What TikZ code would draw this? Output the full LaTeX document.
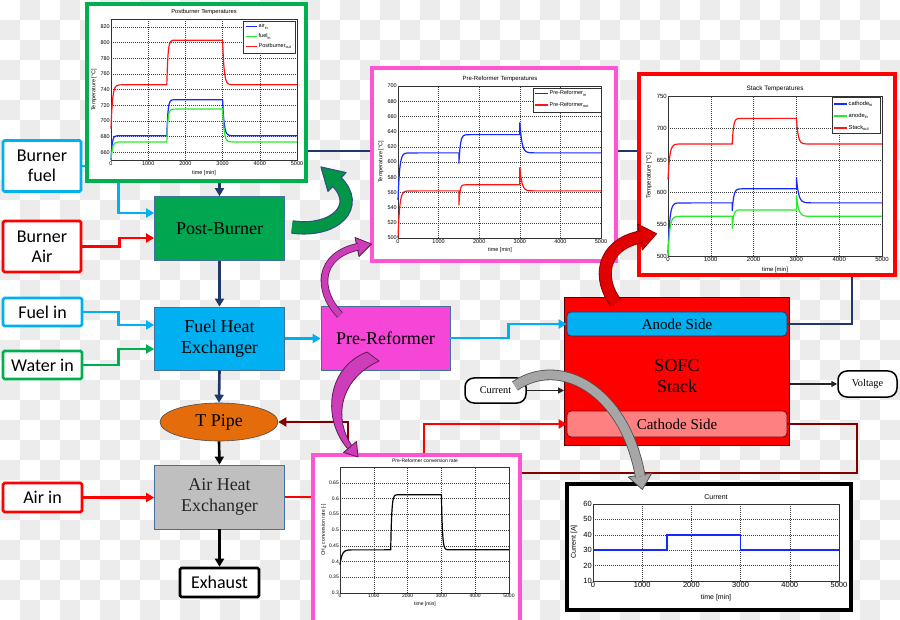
\documentclass[tikz,border=0pt]{standalone}
\usepackage{fontspec}
\setmainfont{Liberation Serif}
\setsansfont{Liberation Sans}
\newfontfamily\calib{Carlito}
\usetikzlibrary{arrows.meta,shapes.geometric,calc}
\definecolor{lblue}{RGB}{0,176,240}
\definecolor{navy}{RGB}{31,56,105}
\definecolor{pbgreen}{RGB}{0,166,80}
\definecolor{lgreen}{RGB}{0,176,80}
\definecolor{maroonc}{RGB}{128,0,0}
\definecolor{orng}{RGB}{228,108,10}
\definecolor{pinkf}{RGB}{245,70,215}
\definecolor{pinkfr}{RGB}{255,85,210}
\definecolor{bordb}{RGB}{65,113,156}
\definecolor{chk}{RGB}{236,236,236}
\definecolor{salm}{RGB}{255,128,128}
\definecolor{mblue}{RGB}{20,40,255}
\definecolor{mgreen}{RGB}{40,235,40}
\definecolor{mred}{RGB}{255,20,20}
\definecolor{magarr}{RGB}{205,60,185}
\definecolor{magbrd}{RGB}{90,30,80}
\definecolor{garr}{RGB}{0,150,70}
\definecolor{gbrd}{RGB}{50,80,130}
\definecolor{rarr}{RGB}{225,0,0}
\definecolor{rbrd}{RGB}{150,0,0}
\definecolor{grarr}{RGB}{166,166,166}
\definecolor{grbrd}{RGB}{80,80,80}
\tikzset{
 inbox/.style={draw, line width=2.6pt, fill=white, font=\calib\fontsize{18}{20}\selectfont, align=center, inner sep=0pt, rounded corners=1.5pt},
 mainbox/.style={draw=bordb, line width=0.8pt, font=\fontsize{18}{21}\selectfont, align=center, inner sep=0pt},
 pipe/.style={line width=2.6pt, -{Triangle[length=8pt,width=9pt]}},
 thinarr/.style={line width=1.4pt, -{Triangle[length=6pt,width=6pt]}},
 pill/.style={draw=black, line width=1.5pt, fill=white, rounded corners=9pt, font=\fontsize{10.3}{12}\selectfont, inner sep=0pt},
 gridl/.style={line width=0.4pt, black!75, dash pattern=on 0.8pt off 1.2pt},
 axl/.style={line width=0.5pt, black!80},
 tk/.style={font=\sffamily\fontsize{#1}{#1}\selectfont, inner sep=1pt},
 cr/.style={line width=1.2pt}
}
\begin{document}
\begin{tikzpicture}[x=1pt,y=-1pt]
\useasboundingbox (0,0) rectangle (900,620);
\fill[white] (0,0) rectangle (900,620);
\foreach \i in {0,...,44}{\foreach \j in {0,...,30}{\pgfmathtruncatemacro\m{mod(\i+\j,2)}\ifnum\m=1 \fill[chk] (\i*20,\j*20) rectangle ++(20,20);\fi}}

% ---------- input boxes ----------
\node[inbox, draw=lblue, minimum width=78pt, minimum height=51pt] (bfuel) at (42,166) {Burner\\fuel};
\node[inbox, draw=red, minimum width=78pt, minimum height=51pt] (bair) at (42,246.5) {Burner\\Air};
\node[inbox, draw=lblue, minimum width=79pt, minimum height=28pt] (fuelin) at (42.5,312) {Fuel in};
\node[inbox, draw=lgreen, minimum width=79pt, minimum height=28pt] (waterin) at (42.5,365) {Water in};
\node[inbox, draw=red, minimum width=79pt, minimum height=29pt] (airin) at (42.5,497.5) {Air in};
\node[inbox, draw=black, minimum width=79pt, minimum height=29pt] (exh) at (219.5,582.5) {Exhaust};

% ---------- main boxes ----------
\node[mainbox, fill=pbgreen, minimum width=130pt, minimum height=64pt] (pb) at (219.5,228.5) {Post-Burner};
\node[mainbox, fill=lblue, minimum width=130pt, minimum height=63pt] (fhx) at (219.5,338.5) {Fuel Heat\\Exchanger};
\node[ellipse, draw=black!70, line width=0.6pt, fill=orng, minimum width=118pt, minimum height=38pt, inner sep=0pt, font=\fontsize{18}{21}\selectfont] (tp) at (219,422) {T Pipe};
\node[mainbox, fill=black!25, minimum width=130pt, minimum height=64pt, text=black!85] (ahx) at (219.5,497) {Air Heat\\Exchanger};
\node[mainbox, fill=pinkf, minimum width=129pt, minimum height=64pt] (prer) at (385.5,338) {Pre-Reformer};
\node[draw={rgb,255:red,90;green,0;blue,0}, line width=0.9pt, fill=red, minimum width=225pt, minimum height=148pt, inner sep=0pt] (sofc) at (677,371) {};
\node[font=\fontsize{18}{21}\selectfont, align=center] (sofct) at (677,376) {SOFC\\Stack};
\node[draw={rgb,255:red,20;green,60;blue,110}, line width=0.8pt, fill=lblue, rounded corners=4pt, minimum width=220pt, minimum height=24pt, inner sep=0pt, font=\fontsize{15}{17}\selectfont] (anode) at (677,324) {Anode Side};
\node[draw={rgb,255:red,130;green,0;blue,0}, line width=0.8pt, fill=salm, rounded corners=4pt, minimum width=220pt, minimum height=26pt, inner sep=0pt, font=\fontsize{15}{17}\selectfont] (cathode) at (677,424) {Cathode Side};
\node[pill, minimum width=61pt, minimum height=25pt] (cur) at (495.5,390.5) {Current};
\node[pill, minimum width=59pt, minimum height=26pt] (volt) at (867.5,384) {Voltage};

% ---------- connectors ----------
\coordinate (nv) at (852,151);
\draw[pipe, navy, -{Triangle[length=8pt,width=9pt]}] (anode.east) -| (nv) -| (pb.north);
\draw[pipe, lblue] (bfuel.east) -- ++(36,0) |- ($(pb.west)+(0,-15.5)$);
\draw[pipe, red] (bair.east) -- ++(37,0) |- ($(pb.west)+(0,9.5)$);
\draw[pipe, lblue] (fuelin.east) -- ++(35,0) |- ($(fhx.west)+(0,-13.5)$);
\draw[pipe, lgreen] (waterin.east) -- ++(35,0) |- ($(fhx.west)+(0,10.5)$);
\draw[pipe, lblue] (fhx.east) -- (fhx.east -| prer.west);
\draw[pipe, lblue] (prer.east) -- ++(58,0) |- (anode.west);
\draw[pipe, navy] (pb.south) -- (fhx.north);
\draw[pipe, navy] (fhx.south) -- (tp.north);
\draw[pipe, black] (tp.south) -- (ahx.north);
\draw[pipe, red] (airin.east) -- (airin.east -| ahx.west);
\draw[pipe, black] (ahx.south) -- (exh.north);
\coordinate (ra) at (424,424);
\draw[pipe, red] (ahx.east) -| (ra) -- (cathode.west);
\coordinate (dr1) at (857,473);
\coordinate (dr2) at (348,473);
\draw[pipe, maroonc] (cathode.east) -| (dr1) -- (dr2) |- (tp.east);
\draw[thinarr, black!85] (cur.east) -- (cur.east -| sofc.west);
\draw[thinarr, black!85] (sofc.east |- volt.west) -- (volt.west);

% ---------- plot 1: Postburner ----------
\filldraw[draw=lgreen, line width=4pt, fill=white] (87,4) rectangle (306,181);
\node[tk=5.8] at (204,12) {Postburner Temperatures};
\begin{scope}[shift={(111,160)}, x={(0.0372pt,0pt)}, y={(0pt,0.7833pt)}, shift={(0,-650)}]
 \foreach \t in {1000,2000,3000,4000} \draw[gridl] (\t,650) -- (\t,830);
 \foreach \T in {660,680,...,820} \draw[gridl] (0,\T) -- (5000,\T);
 \draw[axl] (0,650) rectangle (5000,830);
 \foreach \t in {0,1000,2000,3000,4000,5000} \node[tk=5.5, below] at (\t,650) {\t};
 \foreach \T in {660,680,...,820} \node[tk=5.5, left] at (0,\T) {\T};
 \draw[cr, mred] plot[domain=0:300,samples=25] (\x,{746-56*exp(-\x/40)}) -- (1500,746) -- plot[domain=0:250,samples=25] ({1500+\x},{803-57*exp(-\x/30)}) -- (3000,803) -- plot[domain=0:300,samples=25] ({3000+\x},{746+57*exp(-\x/40)}) -- (5000,746);
 \draw[cr, mblue] plot[domain=0:250,samples=25] (\x,{681-31*exp(-\x/30)}) -- (1500,681) -- plot[domain=0:250,samples=25] ({1500+\x},{727-46*exp(-\x/30)}) -- (3000,727) -- plot[domain=0:300,samples=25] ({3000+\x},{681+46*exp(-\x/40)}) -- (5000,681);
 \draw[cr, mgreen] plot[domain=0:300,samples=25] (\x,{673-23*exp(-\x/40)}) -- (1500,673) -- plot[domain=0:250,samples=25] ({1500+\x},{715-42*exp(-\x/30)}) -- (3000,715) -- plot[domain=0:300,samples=25] ({3000+\x},{673+42*exp(-\x/40)}) -- (5000,673);
\end{scope}
\node[tk=5.5] at (204,173) {time [min]};
\node[tk=5.5, rotate=90] at (94,90) {Temperature [°C]};
\filldraw[fill=white, draw=black!80, line width=0.5pt] (243,21) rectangle (295,53);
\draw[cr, mblue] (246,26.5) -- (257,26.5); \node[tk=5.5, right] at (257.5,26.5) {air\textsubscript{in}};
\draw[cr, mgreen] (246,36.5) -- (257,36.5); \node[tk=5.5, right] at (257.5,36.5) {fuel\textsubscript{in}};
\draw[cr, mred] (246,46.5) -- (257,46.5); \node[tk=5.5, right] at (257.5,46.5) {Postburner\textsubscript{out}};

% ---------- plot 2: Pre-Reformer temperatures ----------
\filldraw[draw=pinkfr, line width=3.5pt, fill=white] (372,68) rectangle (616,261);
\node[tk=6] at (500,79) {Pre-Reformer Temperatures};
\begin{scope}[shift={(398,238)}, x={(0.0406pt,0pt)}, y={(0pt,0.76pt)}, shift={(0,-500)}]
 \foreach \t in {1000,2000,3000,4000} \draw[gridl] (\t,500) -- (\t,700);
 \foreach \T in {520,540,...,680} \draw[gridl] (0,\T) -- (5000,\T);
 \draw[axl] (0,500) rectangle (5000,700);
 \foreach \t in {0,1000,2000,3000,4000,5000} \node[tk=5.5, below] at (\t,500) {\t};
 \foreach \T in {500,520,...,700} \node[tk=5.5, left] at (0,\T) {\T};
 \draw[cr, mblue] plot[domain=0:300,samples=25] (\x,{612-62*exp(-\x/40)}) -- (1500,612) -- (1500,598) -- plot[domain=0:300,samples=25] ({1500+\x},{636-38*exp(-\x/35)}) -- (3000,636) -- (3000,652) -- plot[domain=0:350,samples=25] ({3000+\x},{612+40*exp(-\x/50)}) -- (5000,612);
 \draw[cr, mred] plot[domain=0:300,samples=25] (\x,{562-62*exp(-\x/40)}) -- (1500,562) -- (1500,543) -- plot[domain=0:250,samples=25] ({1500+\x},{570-27*exp(-\x/25)}) -- (3000,570) -- (3000,593) -- plot[domain=0:350,samples=25] ({3000+\x},{562+31*exp(-\x/50)}) -- (5000,562);
\end{scope}
\node[tk=5.5] at (500,250) {time [min]};
\node[tk=5.5, rotate=90] at (381,162) {Temperature [°C]};
\filldraw[fill=white, draw=black!80, line width=0.5pt] (533,88) rectangle (601,112);
\draw[cr, mblue] (535,93.5) -- (548,93.5); \node[tk=5.5, right] at (548.5,93.5) {Pre-Reformer\textsubscript{in}};
\draw[cr, mred] (535,105) -- (548,105); \node[tk=5.5, right] at (548.5,105) {Pre-Reformer\textsubscript{out}};

% ---------- plot 3: Stack temperatures ----------
\filldraw[draw=red, line width=4pt, fill=white] (639,74) rectangle (895,275);
\node[tk=6.4] at (775,89) {Stack Temperatures};
\begin{scope}[shift={(668,256)}, x={(0.0428pt,0pt)}, y={(0pt,0.64pt)}, shift={(0,-500)}]
 \foreach \t in {1000,2000,3000,4000} \draw[gridl] (\t,500) -- (\t,750);
 \foreach \T in {550,600,650,700} \draw[gridl] (0,\T) -- (5000,\T);
 \draw[axl] (0,500) rectangle (5000,750);
 \foreach \t in {0,1000,2000,3000,4000,5000} \node[tk=6, below] at (\t,500) {\t};
 \foreach \T in {500,550,...,750} \node[tk=6, left] at (0,\T) {\T};
 \draw[cr, mred] plot[domain=0:300,samples=25] (\x,{675-55*exp(-\x/40)}) -- (1500,675) -- plot[domain=0:250,samples=25] ({1500+\x},{715-40*exp(-\x/30)}) -- (3000,715) -- plot[domain=0:300,samples=25] ({3000+\x},{675+40*exp(-\x/40)}) -- (5000,675);
 \draw[cr, mblue] plot[domain=0:300,samples=25] (\x,{583-78*exp(-\x/40)}) -- (1500,583) -- (1500,570) -- plot[domain=0:300,samples=25] ({1500+\x},{605-35*exp(-\x/35)}) -- (3000,605) -- (3000,623) -- plot[domain=0:350,samples=25] ({3000+\x},{583+40*exp(-\x/50)}) -- (5000,583);
 \draw[cr, mgreen] plot[domain=0:300,samples=25] (\x,{562-62*exp(-\x/40)}) -- (1500,562) -- (1500,543) -- plot[domain=0:300,samples=25] ({1500+\x},{572-29*exp(-\x/30)}) -- (3000,572) -- (3000,595) -- plot[domain=0:350,samples=25] ({3000+\x},{562+33*exp(-\x/50)}) -- (5000,562);
\end{scope}
\node[tk=6] at (775,269.5) {time [min]};
\node[tk=6, rotate=90] at (649,176) {Temperature [°C]};
\filldraw[fill=white, draw=black!80, line width=0.5pt] (832,97) rectangle (880,133);
\draw[cr, mblue] (834,104) -- (847,104); \node[tk=5.8, right] at (847.5,104) {cathode\textsubscript{in}};
\draw[cr, mgreen] (834,116) -- (847,116); \node[tk=5.8, right] at (847.5,116) {anode\textsubscript{in}};
\draw[cr, mred] (834,128) -- (847,128); \node[tk=5.8, right] at (847.5,128) {Stack\textsubscript{out}};

% ---------- plot 4: conversion rate ----------
\filldraw[draw=pinkfr, line width=3.5pt, fill=white] (313,455) rectangle (520,626);
\node[tk=5] at (425,461) {Pre-Reformer conversion rate};
\begin{scope}[shift={(340,593)}, x={(0.0338pt,0pt)}, y={(0pt,3.15pt)}, shift={(0,-30)}]
 \foreach \t in {1000,2000,3000,4000} \draw[gridl] (\t,30) -- (\t,70);
 \foreach \T in {35,40,...,65} \draw[gridl] (0,\T) -- (5000,\T);
 \draw[axl] (0,30) rectangle (5000,70);
 \foreach \t in {0,1000,2000,3000,4000,5000} \node[tk=5, below] at (\t,30) {\t};
 \foreach \T/\l in {30/0.3,35/0.35,40/0.4,45/0.45,50/0.5,55/0.55,60/0.6,65/0.65} \node[tk=5, left] at (0,\T) {\l};
 \draw[cr, black] plot[domain=0:400,samples=25] (\x,{43.7-4.7*exp(-\x/60)}) -- (1500,43.7) -- plot[domain=0:250,samples=25] ({1500+\x},{61.2-17.5*exp(-\x/30)}) -- (3000,61.2) -- plot[domain=0:300,samples=25] ({3000+\x},{43.7+17.5*exp(-\x/30)}) -- (5000,43.7);
\end{scope}
\node[tk=5] at (425,604) {time [min]};
\node[tk=5, rotate=90] at (324,530) {CH\textsubscript{4} conversion rate [-]};

% ---------- plot 5: current ----------
\filldraw[draw=black, line width=4pt, fill=white] (567,484) rectangle (851,610);
\node[tk=7] at (716,497) {Current};
\begin{scope}[shift={(593,581)}, x={(0.0492pt,0pt)}, y={(0pt,1.54pt)}, shift={(0,-10)}]
 \foreach \t in {1000,2000,3000,4000} \draw[gridl] (\t,10) -- (\t,60);
 \foreach \T in {20,30,40,50} \draw[gridl] (0,\T) -- (5000,\T);
 \draw[axl] (0,10) rectangle (5000,60);
 \foreach \t in {0,1000,2000,3000,4000,5000} \node[tk=7.5, below] at (\t,10) {\t};
 \foreach \T in {10,20,...,60} \node[tk=7.5, left] at (0,\T) {\T};
 \draw[line width=1.5pt, mblue] (0,30) -- (1500,30) -- (1500,40) -- (3000,40) -- (3000,30) -- (5000,30);
\end{scope}
\node[tk=7] at (716,598) {time [min]};
\node[tk=7, rotate=90] at (574,542) {Current [A]};

% ---------- curved block arrows ----------
% green
\filldraw[fill=garr, draw=gbrd, line width=1.2pt, line join=round] (346,172.6) -- (321,167) -- (328,191.4) -- cycle;
\draw[line width=1.2pt, draw=gbrd, double=garr, double distance=11pt] (292,227) .. controls (335,233) and (362,206) .. (335.9,181);
% magenta 1
\filldraw[fill=magarr, draw=magbrd, line width=0.8pt, line join=round] (359,256.5) -- (371.5,244) -- (355,237.5) -- cycle;
\draw[line width=0.8pt, draw=magbrd, double=magarr, double distance=6pt] (340,315) .. controls (316,290) and (318,255) .. (358.5,246.7);
% magenta 2 (tapered)
\filldraw[fill=magarr, draw=magbrd, line width=0.8pt, line join=round] (367,352) .. controls (326,368) and (322,420) .. (348,449) -- (352,446) .. controls (334,420) and (338,380) .. (379,361) -- cycle;
\filldraw[fill=magarr, draw=magbrd, line width=0.8pt, line join=round] (356.5,441.5) -- (358,457) -- (343.5,452.5) -- cycle;
% red
\filldraw[fill=rarr, draw=rbrd, line width=1pt, line join=round] (642.4,249.8) -- (656.5,233.7) -- (637.6,224.2) -- cycle;
\draw[line width=1pt, draw=rbrd, double=rarr, double distance=11pt] (616,303) .. controls (598,280) and (600,245) .. (641.5,236.7);
% gray
\filldraw[fill=grarr, draw=grbrd, line width=0.8pt, line join=round] (651.8,473) -- (642.4,489.5) -- (628.2,477) -- cycle;
\draw[line width=0.8pt, draw=grbrd, double=grarr, double distance=9pt] (515,386) .. controls (560,355) and (625,390) .. (640.3,476.5);
\end{tikzpicture}
\end{document}
